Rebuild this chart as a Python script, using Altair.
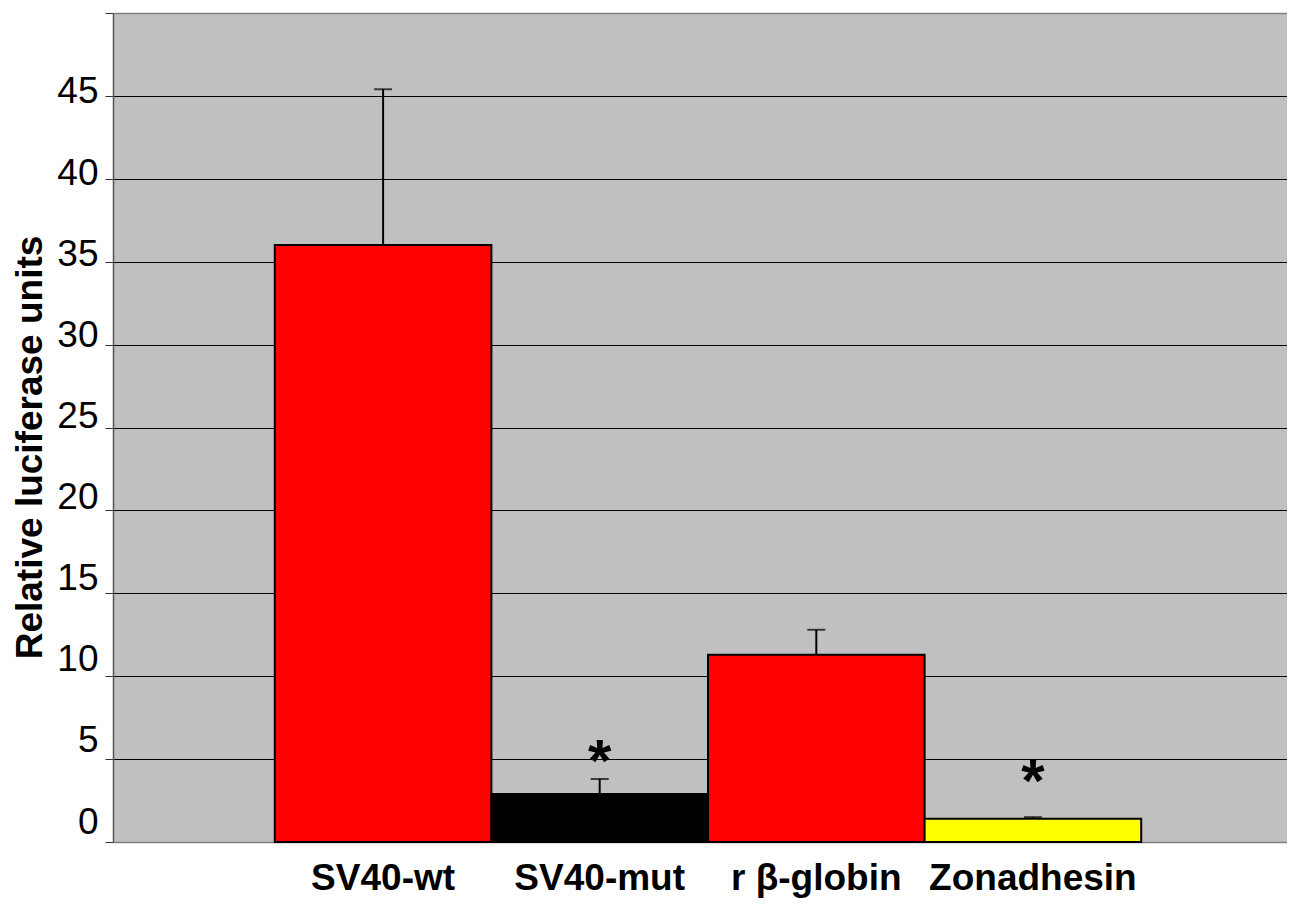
import altair as alt
import pandas as pd

categories = ["SV40-wt", "SV40-mut", "r β-globin", "Zonadhesin"]
values = [36.0, 2.9, 11.3, 1.4]
upper_err = [45.4, 3.8, 12.8, 1.5]
bar_colors = ["#FF0000", "#000000", "#FF0000", "#FFFF00"]
star_categories = ["SV40-mut", "Zonadhesin"]
star_y = [5.5, 4.3]
y_ticks = [0, 5, 10, 15, 20, 25, 30, 35, 40, 45, 50]

df = pd.DataFrame({"cat": categories, "value": values, "upper": upper_err, "color": bar_colors})
stars = pd.DataFrame({"cat": star_categories, "y": star_y})

FONT = "Liberation Sans"

x_enc = alt.X(
    "cat:N",
    sort=categories,
    scale=alt.Scale(paddingInner=0, paddingOuter=0.71, align=0.526),
    axis=alt.Axis(
        title=None, labelAngle=0, labelFontSize=37, labelFontWeight="bold",
        labelFont=FONT, labelColor="black", ticks=False, tickSize=0,
        domain=False, labelPadding=18, grid=False, labelLimit=0,
    ),
)

y_axis = alt.Axis(
    values=y_ticks,
    title="Relative luciferase units",
    titleFont=FONT, titleFontSize=37, titleFontWeight="bold", titleColor="black",
    titleX=-72, titleY=434, titleBaseline="alphabetic", titleAlign="center",
    labelFont=FONT, labelFontSize=37, labelColor="black", labelPadding=7,
    labelExpr="datum.value >= 50 ? '' : datum.label",
    labelOffset={"expr": "-20 + datum.value * 0.356"},
    domainColor="#555555", domainWidth=1.5,
    tickColor="#333333", tickSize=8, tickWidth=1,
    gridColor={"condition": {"test": "datum.value == 0 || datum.value == 50", "value": "#808080"}, "value": "#000000"},
    gridWidth={"condition": {"test": "datum.value == 0 || datum.value == 50", "value": 1.5}, "value": 1},
)

y_enc = alt.Y("value:Q", scale=alt.Scale(domain=[0, 50], nice=False, zero=True), axis=y_axis)

base = alt.Chart(df)

bars = base.mark_bar(stroke="black", strokeWidth=2).encode(
    x=x_enc, y=y_enc, color=alt.Color("color:N", scale=None)
)

stem = base.mark_rule(color="black", strokeWidth=2).encode(
    x=alt.X("cat:N", sort=categories), y="value:Q", y2="upper:Q"
)

cap = base.mark_tick(color="black", thickness=2, size=18).encode(
    x=alt.X("cat:N", sort=categories), y="upper:Q"
)

star_marks = alt.Chart(stars).mark_text(
    text="*", font=FONT, fontSize=60, fontWeight="bold", color="black", baseline="middle", dy=12
).encode(x=alt.X("cat:N", sort=categories), y="y:Q")

chart = alt.layer(bars, stem, cap, star_marks).properties(
    width=1174, height=829,
    autosize=alt.AutoSizeParams(type="none"),
    padding={"left": 105, "top": 5, "right": 0, "bottom": 57},
    background="white",
).configure_view(fill="#C0C0C0", stroke="transparent", strokeWidth=0)

chart.save("out.html", embed_options={"renderer": "svg", "actions": False})
